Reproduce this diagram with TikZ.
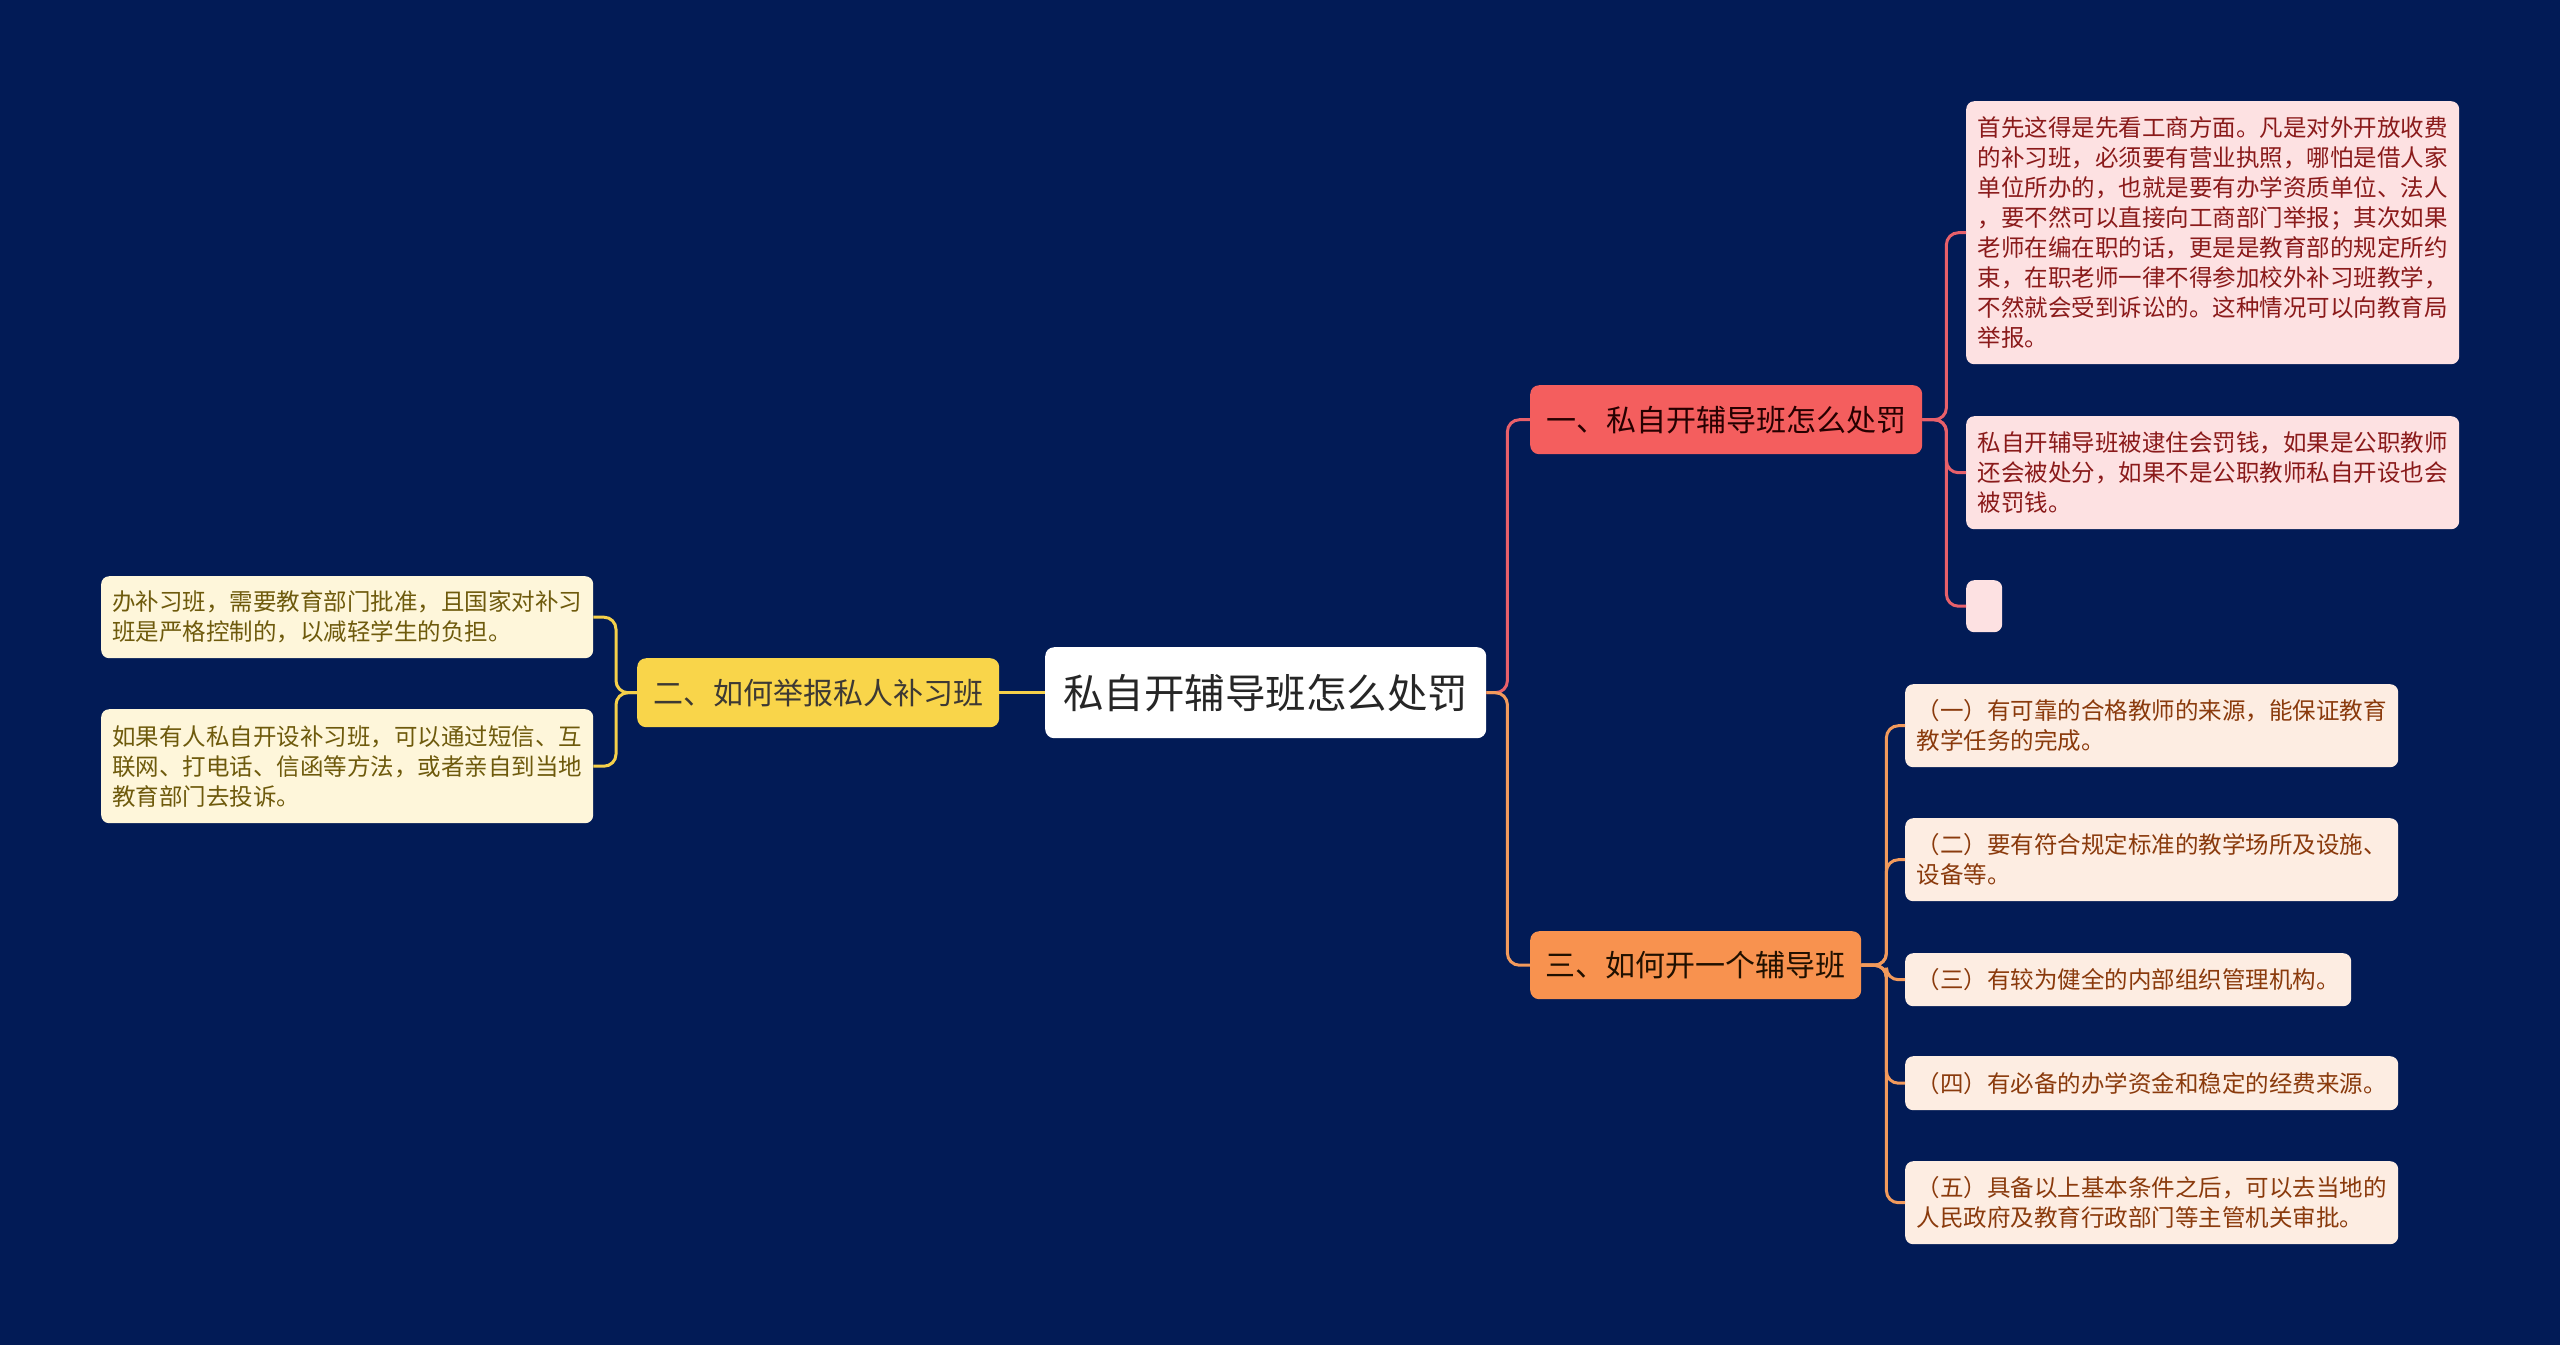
\documentclass[tikz,border=0pt]{standalone}
\usepackage{fontspec}
\setmainfont{Noto Sans CJK SC}
\definecolor{bg}{HTML}{021B56}
\definecolor{redfill}{HTML}{F45E5E}
\definecolor{redline}{HTML}{E8606A}
\definecolor{redleaf}{HTML}{FDE1E2}
\definecolor{redtext}{HTML}{8A1A1A}
\definecolor{orfill}{HTML}{F8924F}
\definecolor{orline}{HTML}{F29A5C}
\definecolor{orleaf}{HTML}{FDEDE2}
\definecolor{ortext}{HTML}{8A3A0C}
\definecolor{yefill}{HTML}{F9D54A}
\definecolor{yeline}{HTML}{F5D04A}
\definecolor{yeleaf}{HTML}{FEF6DA}
\definecolor{yetext}{HTML}{6E5A0C}
\tikzset{
  leafbox/.style={anchor=north west, rounded corners=8pt, inner xsep=11pt, inner ysep=0pt, align=left, font=\fontsize{23.5pt}{30pt}\selectfont},
  rleaf/.style={leafbox, fill=redleaf, text=redtext},
  oleaf/.style={leafbox, fill=orleaf, text=ortext},
  yleaf/.style={leafbox, fill=yeleaf, text=yetext},
  branchbox/.style={anchor=north west, rounded corners=9pt, inner xsep=12pt, inner ysep=0pt, font=\fontsize{30pt}{34pt}\selectfont},
  conn/.style={line width=3pt, rounded corners=12pt},
}
\begin{document}
\begin{tikzpicture}[x=1pt,y=-1pt]
\fill[bg] (0,0) rectangle (2560,1345);
\useasboundingbox (0,0) rectangle (2560,1345);

% central
\node[anchor=north west, fill=white, rounded corners=9pt, minimum width=441pt, minimum height=91pt, inner sep=0pt, text=black!85, font=\fontsize{40.5pt}{46pt}\selectfont] (c) at (1045,647) {私自开辅导班怎么处罚};

% branches
\node[branchbox, fill=redfill, text=black!75!red!60!black, minimum width=392pt, minimum height=69pt] (n1) at (1530,385) {一、私自开辅导班怎么处罚};
\node[branchbox, fill=yefill, text=black!70!yellow!40!black, minimum width=362pt, minimum height=69pt] (n2) at (637,658) {二、如何举报私人补习班};
\node[branchbox, fill=orfill, text=black!75!orange!50!black, minimum width=331pt, minimum height=68pt] (n3) at (1530,931) {三、如何开一个辅导班};

% red leaves
\node[rleaf, minimum width=493pt, minimum height=263pt] (r1) at (1966,101) {首先这得是先看工商方面。凡是对外开放收费\\的补习班，必须要有营业执照，哪怕是借人家\\单位所办的，也就是要有办学资质单位、法人\\，要不然可以直接向工商部门举报；其次如果\\老师在编在职的话，更是是教育部的规定所约\\束，在职老师一律不得参加校外补习班教学，\\不然就会受到诉讼的。这种情况可以向教育局\\举报。};
\node[rleaf, minimum width=493pt, minimum height=113pt] (r2) at (1966,416) {私自开辅导班被逮住会罚钱，如果是公职教师\\还会被处分，如果不是公职教师私自开设也会\\被罚钱。};
\node[rleaf, minimum width=36pt, minimum height=52pt, inner xsep=0pt] (r3) at (1966,580) {};

% orange leaves
\node[oleaf, minimum width=493pt, minimum height=83pt] (o1) at (1905,684) {（一）有可靠的合格教师的来源，能保证教育\\教学任务的完成。};
\node[oleaf, minimum width=493pt, minimum height=83pt] (o2) at (1905,818) {（二）要有符合规定标准的教学场所及设施、\\设备等。};
\node[oleaf, minimum width=446pt, minimum height=53pt] (o3) at (1905,953) {（三）有较为健全的内部组织管理机构。};
\node[oleaf, minimum width=493pt, minimum height=54pt] (o4) at (1905,1056) {（四）有必备的办学资金和稳定的经费来源。};
\node[oleaf, minimum width=493pt, minimum height=83pt] (o5) at (1905,1161) {（五）具备以上基本条件之后，可以去当地的\\人民政府及教育行政部门等主管机关审批。};

% yellow leaves
\node[yleaf, minimum width=492pt, minimum height=82pt] (y1) at (101,576) {办补习班，需要教育部门批准，且国家对补习\\班是严格控制的，以减轻学生的负担。};
\node[yleaf, minimum width=492pt, minimum height=114pt] (y2) at (101,709) {如果有人私自开设补习班，可以通过短信、互\\联网、打电话、信函等方法，或者亲自到当地\\教育部门去投诉。};

% connectors from central
\draw[conn, redline] (c.east) -- ++(21,0) |- (n1.west);
\draw[conn, orline] (c.east) -- ++(21,0) |- (n3.west);
\draw[conn, yeline] (c.west) -- (n2.east);

% red children
\foreach \t in {r1,r2,r3} \draw[conn, redline] (n1.east) -- ++(24,0) |- (\t.west);
% orange children
\foreach \t in {o1,o2,o3,o4,o5} \draw[conn, orline] (n3.east) -- ++(25,0) |- (\t.west);
% yellow children
\foreach \t in {y1,y2} \draw[conn, yeline] (n2.west) -- ++(-21,0) |- (\t.east);
\end{tikzpicture}
\end{document}
